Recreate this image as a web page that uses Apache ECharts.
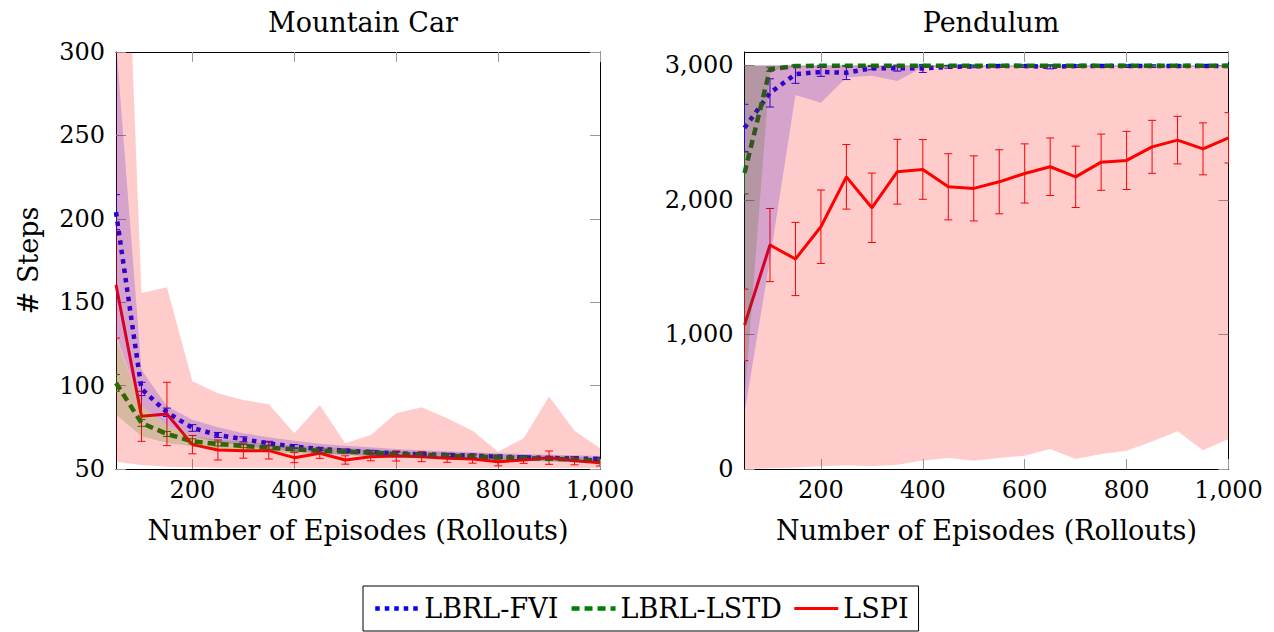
<!DOCTYPE html>
<html>
<head>
<meta charset="utf-8">
<script src="https://cdn.jsdelivr.net/npm/echarts@6/dist/echarts.min.js"></script>
<style>
  html, body { margin: 0; padding: 0; background: #fff; }
  #chart { width: 1274px; height: 632px; }
</style>
</head>
<body>
<div id="chart"></div>
<script>
// Number of training episodes (rollouts) at which each method was evaluated
const episodes = [50, 100, 150, 200, 250, 300, 350, 400, 450, 500, 550, 600, 650, 700, 750, 800, 850, 900, 950, 1000];

// Mountain Car: mean steps, error half-width, min/max band
const mcFviMean  = [204, 98, 84, 74.6, 70.4, 67.8, 65.4, 63.4, 62, 61, 60.2, 59.4, 58.8, 58.4, 58, 57.4, 57, 56.6, 56.3, 56];
const mcFviErr   = [10.5, 4, 2.5, 2, 1.5, 1.5, 1.2, 1.2, 1, 1, 1, 1, 1, 1, 1, 1, 1, 1, 1, 1];
const mcFviLow   = [130, 87.6, 76.6, 69.6, 66.2, 64, 62, 60.5, 59.3, 58.5, 57.8, 57.2, 56.7, 56.3, 56, 55.4, 55, 54.7, 54.4, 54.2];
const mcFviHigh  = [306, 109.5, 87.6, 79.6, 75, 71.5, 69, 67, 65.2, 64, 63, 62, 61.2, 60.6, 60, 59.4, 59, 58.6, 58.2, 57.8];

const mcLstdMean = [101.6, 77.6, 71, 66.6, 65, 63.8, 62.8, 61.8, 61, 60.4, 59.8, 59, 58.5, 58, 57.5, 57, 56.6, 56.2, 55.6, 55];
const mcLstdErr  = [5, 2, 1.5, 1.5, 1.2, 1, 1, 1, 1, 1, 1, 1, 1, 1, 1, 1, 1, 1, 1, 1];
const mcLstdLow  = [82.6, 69.6, 65.6, 63.6, 62.2, 61.2, 60.3, 59.5, 58.8, 58.2, 57.7, 57, 56.5, 56.1, 55.7, 55.3, 54.9, 54.5, 54, 53.5];
const mcLstdHigh = [128.5, 87.6, 76.6, 69.6, 67.6, 66.3, 65.2, 64.1, 63.2, 62.5, 61.8, 61, 60.4, 59.9, 59.4, 58.8, 58.3, 57.9, 57.3, 56.6];

const mcLspiMean = [160.5, 81.6, 83, 64.6, 61.4, 61, 61, 56.8, 59.4, 55.4, 57.4, 57.8, 57.4, 56.5, 56, 54.4, 55.4, 56.8, 55, 53.8];
const mcLspiErr  = [32, 15, 19, 5.5, 6, 4.5, 5, 3, 3, 2.5, 2.5, 3, 3, 2.5, 2.5, 2.5, 2, 4, 2.5, 2];
const mcLspiLow  = [54.4, 52.4, 51.4, 51, 50.8, 50.7, 50.7, 50.6, 50.6, 50.6, 50.6, 50.6, 50.6, 50.6, 50.6, 50.6, 50.6, 50.6, 50.6, 50.6];
const mcLspiHigh = [553, 155.5, 159, 102.6, 95.4, 91.4, 88.8, 71.4, 88.4, 65.4, 70.4, 83.4, 87, 80.4, 73, 60.4, 68.4, 93.4, 73, 62.4];

// Pendulum: mean steps balanced, error half-width, min/max band
const pdFviMean  = [2536, 2796, 2935, 2952, 2945, 2980, 2980, 2978, 2990, 2993, 2995, 2995, 2990, 2995, 2995, 2995, 2995, 2995, 2995, 2995];
const pdFviErr   = [175, 105, 68, 33, 50, 12, 22, 30, 10, 10, 10, 10, 15, 10, 10, 10, 10, 10, 10, 10];
const pdFviLow   = [416, 1560, 2780, 2722, 2911, 2923, 2885, 2987, 2990, 2990, 2990, 2990, 2985, 2990, 2990, 2990, 2990, 2990, 2990, 2990];
const pdFviHigh  = [3000, 3000, 3000, 3000, 3000, 3000, 3000, 3000, 3000, 3000, 3000, 3000, 3000, 3000, 3000, 3000, 3000, 3000, 3000, 3000];

const pdLstdMean = [2200, 2972, 2996, 2998, 2998, 2998, 2998, 2998, 2998, 2998, 2998, 2998, 2998, 2998, 2998, 2998, 2998, 2998, 2998, 2998];
const pdLstdErr  = [155, 15, 5, 3, 3, 3, 3, 3, 3, 3, 3, 3, 3, 3, 3, 3, 3, 3, 3, 3];
const pdLstdLow  = [514, 2960, 2990, 2992, 2992, 2992, 2992, 2992, 2992, 2992, 2992, 2992, 2992, 2992, 2992, 2992, 2992, 2992, 2992, 2992];
const pdLstdHigh = [3000, 3000, 3000, 3000, 3000, 3000, 3000, 3000, 3000, 3000, 3000, 3000, 3000, 3000, 3000, 3000, 3000, 3000, 3000, 3000];

const pdLspiMean = [1071, 1665, 1561, 1801, 2172, 1942, 2210, 2227, 2098, 2086, 2135, 2197, 2247, 2172, 2281, 2294, 2395, 2445, 2380, 2462];
const pdLspiErr  = [266, 272, 272, 273, 240, 258, 241, 222, 246, 242, 238, 220, 214, 228, 209, 216, 197, 177, 193, 187];
const pdLspiLow  = [0, 5, 12, 20, 27, 20, 32, 64, 82, 62, 82, 99, 148, 74, 111, 136, 205, 280, 139, 223];
const pdLspiHigh = [3000, 3000, 3000, 3000, 3000, 3000, 3000, 3000, 3000, 3000, 3000, 3000, 3000, 3000, 3000, 3000, 3000, 3000, 3000, 3000];

// Axis ticks
const xTicks = [200, 400, 600, 800, 1000];
const pdYTicks = [0, 1000, 2000, 3000];

const FONT = 'DejaVu Serif';
const BLUE = '#0000ff', GREEN = '#008000', RED = '#ff0000';

function fmt(v) { return String(v).replace(/\B(?=(\d{3})+(?!\d))/g, ','); }
function pairs(xs, ys) { return xs.map((x, i) => [x, ys[i]]); }

function meanLine(name, ys, color, type, width, ax) {
  return {
    type: 'line', name: name, xAxisIndex: ax, yAxisIndex: ax,
    data: pairs(episodes, ys), symbol: 'none', showSymbol: false,
    color: color, z: 2, animation: false, clip: true,
    lineStyle: { color: color, width: width, type: type, cap: 'butt' }
  };
}

// Min/max envelope: one filled polygon through the upper bounds and back along the lower bounds
function band(id, low, high, rgba, ax) {
  return {
    type: 'custom', name: id, xAxisIndex: ax, yAxisIndex: ax, z: 3,
    silent: true, animation: false, clip: true,
    data: episodes.map((x, i) => [x, low[i], high[i]]),
    encode: { x: 0, y: [1, 2] },
    renderItem: function (params, api) {
      if (params.dataIndex !== 0) return null;
      const pts = [];
      for (let i = 0; i < episodes.length; i++) pts.push(api.coord([episodes[i], high[i]]));
      for (let i = episodes.length - 1; i >= 0; i--) pts.push(api.coord([episodes[i], low[i]]));
      return { type: 'polygon', shape: { points: pts }, style: { fill: rgba, stroke: null } };
    }
  };
}

function errorBars(id, mean, err, color, ax) {
  return {
    type: 'custom', name: id + '-err', xAxisIndex: ax, yAxisIndex: ax, z: 2,
    silent: true, animation: false, clip: true,
    data: episodes.map((x, i) => [x, mean[i] - err[i], mean[i] + err[i]]),
    encode: { x: 0, y: [1, 2] },
    renderItem: function (params, api) {
      const x = api.value(0);
      const lo = api.coord([x, api.value(1)]);
      const hi = api.coord([x, api.value(2)]);
      const c = 4;
      const st = { stroke: color, lineWidth: 1 };
      return {
        type: 'group', children: [
          { type: 'line', shape: { x1: lo[0], y1: lo[1], x2: hi[0], y2: hi[1] }, style: st },
          { type: 'line', shape: { x1: lo[0] - c, y1: lo[1], x2: lo[0] + c, y2: lo[1] }, style: st },
          { type: 'line', shape: { x1: hi[0] - c, y1: hi[1], x2: hi[0] + c, y2: hi[1] }, style: st }
        ]
      };
    }
  };
}

const tick = { show: true, inside: true, length: 10, lineStyle: { color: '#999', width: 1 } };
const frame = { show: true, onZero: false, lineStyle: { color: '#000', width: 1 } };
const labelStyle = { fontFamily: FONT, fontSize: 24, color: '#000' };
const nameStyle = { fontFamily: FONT, fontSize: 27, color: '#000' };

function xAxes(gi) {
  return [
    {
      type: 'value', gridIndex: gi, position: 'bottom', min: 50, max: 1000,
      axisLine: frame, splitLine: { show: false },
      axisTick: Object.assign({ customValues: xTicks }, tick),
      axisLabel: Object.assign({ customValues: xTicks, margin: 9, formatter: fmt }, labelStyle),
      name: 'Number of Episodes (Rollouts)', nameLocation: 'middle', nameGap: 48, nameTextStyle: nameStyle
    },
    {
      type: 'value', gridIndex: gi, position: 'top', min: 50, max: 1000,
      axisLine: frame, splitLine: { show: false },
      axisTick: Object.assign({ customValues: xTicks }, tick),
      axisLabel: { show: false }
    }
  ];
}

const FVI_DASH = [4.5, 5], LSTD_DASH = [8, 5];

const option = {
  animation: false,
  backgroundColor: '#fff',
  title: [
    { text: 'Mountain Car', left: 358, top: 4, textAlign: 'center',
      textStyle: { fontFamily: FONT, fontSize: 27, fontWeight: 'normal', color: '#000' } },
    { text: 'Pendulum', left: 986, top: 4, textAlign: 'center',
      textStyle: { fontFamily: FONT, fontSize: 27, fontWeight: 'normal', color: '#000' } }
  ],
  grid: [
    { left: 116, top: 52, width: 484, height: 417 },
    { left: 744.5, top: 52, width: 484, height: 417 }
  ],
  xAxis: xAxes(0).concat(xAxes(1)),
  yAxis: [
    {
      type: 'value', gridIndex: 0, position: 'left', min: 50, max: 300, interval: 50,
      axisLine: frame, splitLine: { show: false }, axisTick: tick,
      axisLabel: Object.assign({ margin: 11 }, labelStyle),
      name: '# Steps', nameLocation: 'middle', nameGap: 74, nameRotate: 90, nameTextStyle: nameStyle
    },
    {
      type: 'value', gridIndex: 0, position: 'right', min: 50, max: 300, interval: 50,
      axisLine: frame, splitLine: { show: false }, axisTick: tick, axisLabel: { show: false }
    },
    {
      type: 'value', gridIndex: 1, position: 'left', min: 0, max: 3100,
      axisLine: frame, splitLine: { show: false },
      axisTick: Object.assign({ customValues: pdYTicks }, tick),
      axisLabel: Object.assign({ customValues: pdYTicks, margin: 11, formatter: fmt }, labelStyle)
    },
    {
      type: 'value', gridIndex: 1, position: 'right', min: 0, max: 3100,
      axisLine: frame, splitLine: { show: false },
      axisTick: Object.assign({ customValues: pdYTicks }, tick), axisLabel: { show: false }
    }
  ],
  legend: {
    data: ['LBRL-FVI', 'LBRL-LSTD', 'LSPI'],
    left: 363, top: 586, padding: [9, 10],
    itemWidth: 44, itemHeight: 14, itemGap: 11,
    borderColor: '#000', borderWidth: 1, borderRadius: 0,
    selectedMode: false,
    itemStyle: { opacity: 0 },
    lineStyle: { width: 'inherit', type: 'inherit' },
    textStyle: { fontFamily: FONT, fontSize: 27, color: '#000', lineHeight: 27 }
  },
  series: [
    // Mountain Car
    meanLine('LBRL-FVI', mcFviMean, BLUE, FVI_DASH, 4.5, 0),
    meanLine('LBRL-LSTD', mcLstdMean, GREEN, LSTD_DASH, 4.5, 0),
    meanLine('LSPI', mcLspiMean, RED, 'solid', 3, 0),
    errorBars('mc-fvi', mcFviMean, mcFviErr, BLUE, 0),
    errorBars('mc-lstd', mcLstdMean, mcLstdErr, GREEN, 0),
    errorBars('mc-lspi', mcLspiMean, mcLspiErr, RED, 0),
    band('mc-fvi-band', mcFviLow, mcFviHigh, 'rgba(0,0,255,0.2)', 0),
    band('mc-lstd-band', mcLstdLow, mcLstdHigh, 'rgba(0,128,0,0.2)', 0),
    band('mc-lspi-band', mcLspiLow, mcLspiHigh, 'rgba(255,0,0,0.2)', 0),
    // Pendulum
    meanLine('LBRL-FVI', pdFviMean, BLUE, FVI_DASH, 4.5, 2),
    meanLine('LBRL-LSTD', pdLstdMean, GREEN, LSTD_DASH, 4.5, 2),
    meanLine('LSPI', pdLspiMean, RED, 'solid', 3, 2),
    errorBars('pd-fvi', pdFviMean, pdFviErr, BLUE, 2),
    errorBars('pd-lstd', pdLstdMean, pdLstdErr, GREEN, 2),
    errorBars('pd-lspi', pdLspiMean, pdLspiErr, RED, 2),
    band('pd-fvi-band', pdFviLow, pdFviHigh, 'rgba(0,0,255,0.2)', 2),
    band('pd-lstd-band', pdLstdLow, pdLstdHigh, 'rgba(0,128,0,0.2)', 2),
    band('pd-lspi-band', pdLspiLow, pdLspiHigh, 'rgba(255,0,0,0.2)', 2)
  ]
};

const chart = echarts.init(document.getElementById('chart'), null, { renderer: 'svg' });
chart.setOption(option);
</script>
</body>
</html>
